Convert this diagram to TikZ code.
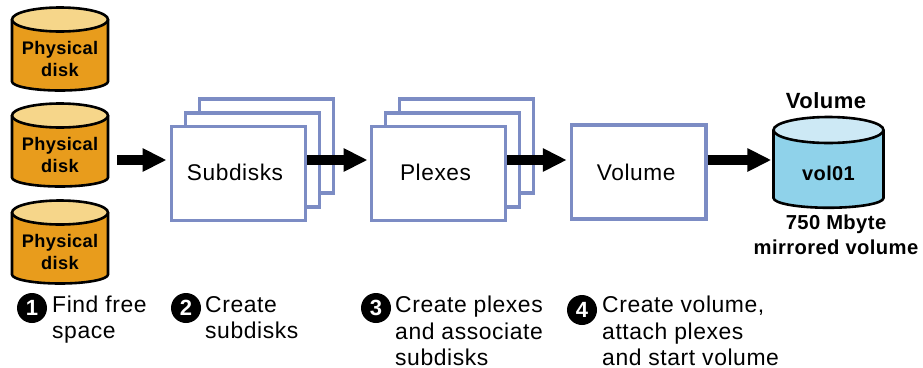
\documentclass[tikz,border=0pt]{standalone}
\usepackage{fontspec}
\setmainfont{Liberation Sans}[LetterSpace=2.5]
\newfontfamily\boldsp{Liberation Sans Bold}[LetterSpace=2]
\usetikzlibrary{arrows.meta,positioning}
\definecolor{diskbody}{HTML}{E89C1C}
\definecolor{disktop}{HTML}{F6D68A}
\definecolor{volbody}{HTML}{8FD2EA}
\definecolor{voltop}{HTML}{CDE9F5}
\definecolor{pageline}{HTML}{7C8CC4}
\tikzset{
  pagebox/.style={draw=pageline,line width=3.4pt,fill=white,minimum width=134.5pt,minimum height=94pt,inner sep=0pt,font=\fontsize{22.7}{23}\selectfont},
  bigarrow/.style={line width=10pt,draw=black,-{Triangle[length=24pt,width=22pt]}},
  disklabel/.style={inner sep=0pt,align=center,font=\boldsp\fontsize{18.2}{22}\selectfont},
  steptext/.style={inner sep=0pt,anchor=north west,align=left,font=\fontsize{22.9}{26.2}\selectfont},
  stepdot/.style={circle,fill=black,text=white,minimum size=30pt,inner sep=0pt,font=\boldsp\fontsize{22}{22}\selectfont},
  caption/.style={inner sep=0pt,align=center,font=\boldsp\fontsize{20.2}{25.5}\selectfont},
}
% #1 name, #2 centre x, #3 top-ellipse centre y, #4 body colour, #5 top colour, #6 half width, #7 top ry, #8 body height, #9 label
\newcommand{\drumshape}[9]{%
  \draw[line width=2.6pt,fill=#4] (#2-#6,#3) -- (#2-#6,#3+#8) arc[start angle=180,end angle=360,x radius=#6,y radius=-#7*0.75] -- (#2+#6,#3) ;
  \draw[line width=2.6pt,fill=#5] (#2,#3) ellipse[x radius=#6,y radius=#7];
  \node[disklabel,minimum width=2*#6*1pt,minimum height=#8*1pt-#7*1pt,anchor=center] (#1) at (#2,#3+#7/2+#8/2+2.4) {#9};
}
\begin{document}
\begin{tikzpicture}[x=1pt,y=-1pt]
\useasboundingbox (0,0) rectangle (923,367);
\coordinate (rowa) at (0,160);
\drumshape{diska}{60}{19.5}{diskbody}{disktop}{48}{12}{62}{Physical\\disk}
\drumshape{diskb}{60}{115.5}{diskbody}{disktop}{48}{12}{62}{Physical\\disk}
\drumshape{diskc}{60}{212.5}{diskbody}{disktop}{48}{12}{62}{Physical\\disk}
\drumshape{vold}{828.5}{130}{volbody}{voltop}{55}{13}{68}{\fontsize{20}{22}\selectfont vol01}
% stacked pages
\node[pagebox] (subc) at (266.5,146) {};
\node[pagebox] (subb) at (252.5,160) {};
\node[pagebox] (sub) at (238.5,173.5) {\raisebox{1.5pt}{\hspace*{-7pt}Subdisks}};
\node[pagebox] (plexc) at (466.5,146) {};
\node[pagebox] (plexb) at (452.5,160) {};
\node[pagebox] (plex) at (438.5,173.5) {\raisebox{1.5pt}{\hspace*{-6pt}Plexes}};
\node[pagebox] (vol) at (638.7,172) {\hspace*{-5pt}Volume};
% arrows
\draw[bigarrow] ([xshift=9pt]diskb.east |- rowa) -- ([xshift=-3pt]sub.west |- rowa);
\draw[bigarrow] (sub.east |- rowa) -- ([xshift=-2pt]plex.west |- rowa);
\draw[bigarrow] (plex.east |- rowa) -- ([xshift=-3pt]vol.west |- rowa);
\draw[bigarrow] (vol.east |- rowa) -- ([xshift=-2pt]vold.west |- rowa);
% captions
\node[caption,font=\boldsp\fontsize{22}{22}\selectfont] (voltitle) at (826,101) {Volume};
\node[caption] (volcap) at (836,235) {750 Mbyte\\mirrored volume};
% steps
\node[stepdot] (dota) at (32,308) {1};
\node[steptext] (txta) at (52,296) {Find free\\space};
\node[stepdot] (dotb) at (186,308) {2};
\node[steptext] (txtb) at (205,296) {Create\\subdisks};
\node[stepdot] (dotc) at (376,308) {3};
\node[steptext] (txtc) at (395,296) {Create plexes\\and associate\\subdisks};
\node[stepdot] (dotd) at (582,310) {4};
\node[steptext] (txtd) at (602,296) {Create volume,\\attach plexes\\and start volume};
\end{tikzpicture}
\end{document}
